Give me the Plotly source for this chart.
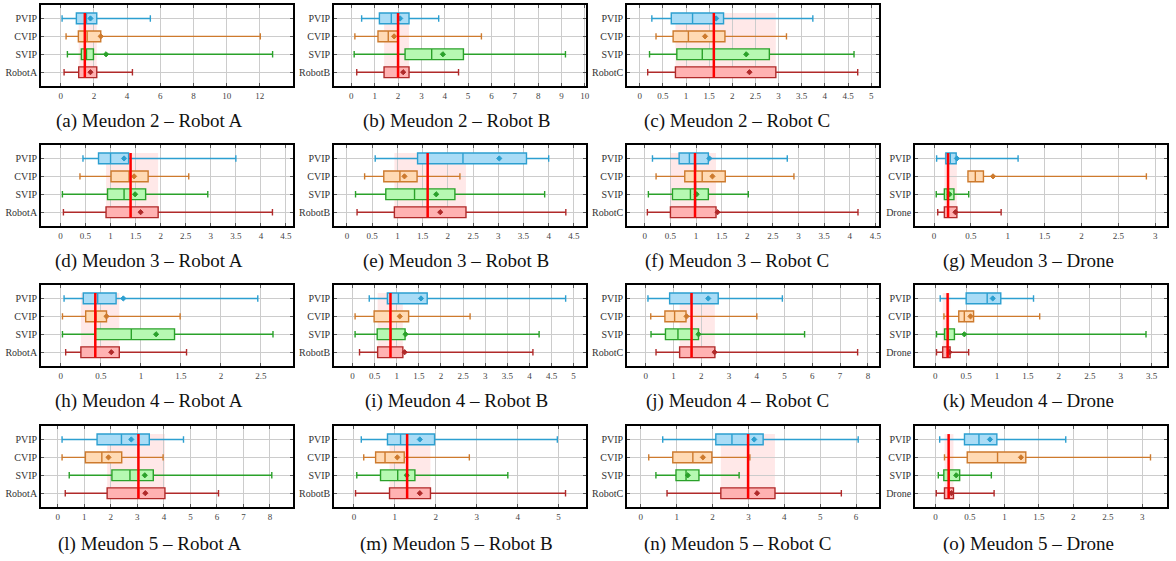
import plotly.graph_objects as go

# ---- data: one row per panel, values ordered [PVIP, CVIP, SVIP, robot/drone] ----
CAPTIONS = [
    "(a) Meudon 2 – Robot A", "(b) Meudon 2 – Robot B", "(c) Meudon 2 – Robot C",
    "(d) Meudon 3 – Robot A", "(e) Meudon 3 – Robot B", "(f) Meudon 3 – Robot C", "(g) Meudon 3 – Drone",
    "(h) Meudon 4 – Robot A", "(i) Meudon 4 – Robot B", "(j) Meudon 4 – Robot C", "(k) Meudon 4 – Drone",
    "(l) Meudon 5 – Robot A", "(m) Meudon 5 – Robot B", "(n) Meudon 5 – Robot C", "(o) Meudon 5 – Drone",
]
AGENTS = ["RobotA", "RobotB", "RobotC",
          "RobotA", "RobotB", "RobotC", "Drone",
          "RobotA", "RobotB", "RobotC", "Drone",
          "RobotA", "RobotB", "RobotC", "Drone"]
METHODS = ["PVIP", "CVIP", "SVIP"]

LOWER = [
    [0.08, 0.32, 0.40, 0.20], [0.44, 0.15, 0.12, 0.23], [0.26, 0.35, 0.21, 0.17],
    [0.45, 0.39, 0.04, 0.06], [0.56, 0.35, 0.17, 0.20], [0.15, 0.22, 0.07, 0.05], [0.035, 0.46, 0.03, 0.05],
    [0.04, 0.02, 0.02, 0.06], [0.38, 0.06, 0.06, 0.16], [0.08, 0.18, 0.19, 0.37], [0.08, 0.14, 0.02, 0.02],
    [0.16, 0.16, 0.43, 0.28], [0.18, 0.24, 0.07, 0.04], [0.61, 0.22, 0.42, 0.73], [0.06, 0.13, 0.04, 0.01],
]
Q1 = [
    [0.94, 1.06, 1.24, 1.08], [1.20, 1.14, 2.30, 1.40], [0.68, 0.72, 0.80, 0.77],
    [0.76, 1.01, 0.94, 0.91], [1.40, 0.73, 0.77, 0.94], [0.67, 0.78, 0.54, 0.50], [0.16, 0.46, 0.14, 0.14],
    [0.28, 0.31, 0.43, 0.25], [0.79, 0.49, 0.56, 0.57], [0.86, 0.69, 0.71, 1.22], [0.50, 0.38, 0.15, 0.12],
    [1.48, 1.04, 2.04, 1.86], [0.82, 0.53, 0.65, 0.87], [2.09, 0.89, 0.98, 2.23], [0.42, 0.46, 0.12, 0.13],
]
MEDIAN = [
    [1.55, 1.59, 1.55, 1.45], [1.71, 1.58, 3.44, 2.00], [1.14, 1.05, 1.35, 1.60],
    [1.00, 1.37, 1.27, 1.40], [2.30, 1.05, 1.34, 1.60], [0.87, 1.12, 0.89, 0.98], [0.22, 0.56, 0.18, 0.19],
    [0.46, 0.44, 0.88, 0.43], [1.04, 0.85, 0.87, 0.86], [1.63, 1.04, 1.16, 1.65], [0.84, 0.47, 0.21, 0.20],
    [2.40, 1.66, 2.72, 3.04], [1.14, 0.76, 1.07, 1.30], [2.54, 1.45, 1.26, 2.99], [0.63, 0.90, 0.20, 0.19],
]
Q3 = [
    [2.17, 2.41, 1.97, 2.17], [2.47, 2.00, 4.80, 2.47], [1.81, 1.84, 2.80, 2.94],
    [1.36, 1.75, 1.70, 1.95], [3.56, 1.39, 2.14, 2.36], [1.24, 1.57, 1.24, 1.39], [0.30, 0.67, 0.27, 0.31],
    [0.69, 0.57, 1.42, 0.73], [1.69, 1.27, 1.19, 1.14], [2.61, 1.45, 1.90, 2.49], [1.06, 0.62, 0.31, 0.24],
    [3.45, 2.41, 3.60, 4.04], [1.97, 1.23, 1.49, 1.87], [3.41, 1.98, 1.62, 3.74], [0.89, 1.31, 0.35, 0.26],
]
UPPER = [
    [5.40, 12.03, 12.77, 4.32], [3.74, 5.57, 9.17, 4.59], [3.74, 3.17, 4.63, 4.71],
    [3.50, 2.56, 2.94, 4.23], [4.00, 2.24, 3.92, 4.34], [2.78, 2.91, 2.02, 4.16], [1.14, 2.88, 0.47, 0.91],
    [2.46, 1.49, 2.65, 1.57], [4.82, 2.66, 4.22, 4.08], [4.92, 4.00, 5.72, 7.63], [1.59, 1.69, 3.41, 0.54],
    [4.74, 3.97, 8.07, 6.06], [4.97, 2.82, 3.76, 5.17], [6.06, 3.04, 2.74, 5.59], [1.89, 3.12, 0.81, 0.85],
]
MEAN = [
    [1.79, 2.41, 2.73, 1.79], [2.09, 1.83, 3.92, 2.22], [1.65, 1.41, 2.30, 2.37],
    [1.27, 1.47, 1.49, 1.60], [3.02, 1.14, 1.77, 1.85], [1.26, 1.32, 1.01, 1.42], [0.31, 0.80, 0.21, 0.29],
    [0.78, 0.57, 1.19, 0.63], [1.55, 1.07, 1.20, 1.18], [2.25, 1.47, 1.90, 2.48], [0.93, 0.57, 0.47, 0.23],
    [2.77, 1.91, 3.28, 3.30], [1.61, 1.06, 1.29, 1.61], [3.16, 1.73, 1.31, 3.24], [0.79, 1.24, 0.30, 0.23],
]
X_RANGES = [
    [-1.2, 14.0], [-0.75, 10.05], [-0.28, 5.17],
    [-0.39, 4.64], [-0.26, 4.74], [-0.35, 4.57], [-0.26, 3.16],
    [-0.25, 2.9], [-0.42, 5.28], [-0.68, 8.4], [-0.33, 3.75],
    [-0.64, 8.87], [-0.49, 5.67], [-0.39, 6.64], [-0.30, 3.36],
]
X_TICK_STEP = [2, 1, 0.5, 0.5, 0.5, 0.5, 0.5, 0.5, 0.5, 1, 0.5, 1, 1, 1, 0.5]
X_TICK_MAX = [12, 10, 5, 4.5, 4.5, 4.5, 3, 2.5, 5, 8, 3.5, 8, 5, 6, 3]

# grid slot (column, row) of each panel
SLOTS = [(0, 0), (1, 0), (2, 0),
         (0, 1), (1, 1), (2, 1), (3, 1),
         (0, 2), (1, 2), (2, 2), (3, 2),
         (0, 3), (1, 3), (2, 3), (3, 3)]

# ---- styling ----
FILLS = ["#a9dcf6", "#ffdab4", "#b6f9b2", "#ffb2b2"]
LINES = ["#2c9fd0", "#cd7a2d", "#2aa12a", "#b02a2a"]
W, H = 1176, 561
COL_LEFT = [41, 335, 629, 918]
COL_WIDTH = 253
ROW_TOP = [5, 145, 285, 426]
ROW_HEIGHT = 81
CAPTION_X = [150, 458, 740, 1032]
CAPTION_Y = [121, 261, 401, 544]
BOX_W = 0.6
SERIF = "Liberation Serif"

fig = go.Figure()
shapes, annotations = [], []

for p, (col, row) in enumerate(SLOTS):
    k = p + 1
    xa, ya = f"x{k}", f"y{k}"
    names = METHODS + [AGENTS[p]]
    positions = [3, 2, 1, 0]  # PVIP on top, agent at the bottom
    for j in range(4):
        fig.add_trace(go.Box(
            y=[positions[j]], orientation="h",
            q1=[Q1[p][j]], median=[MEDIAN[p][j]], q3=[Q3[p][j]],
            lowerfence=[LOWER[p][j]], upperfence=[UPPER[p][j]],
            fillcolor=FILLS[j], line=dict(color=LINES[j], width=1.4),
            width=BOX_W, whiskerwidth=0.6, boxpoints=False,
            xaxis=xa, yaxis=ya, showlegend=False, hoverinfo="skip",
        ))
        fig.add_trace(go.Scatter(
            x=[MEAN[p][j]], y=[positions[j]], mode="markers",
            marker=dict(symbol="diamond", size=4, color=LINES[j],
                        line=dict(color=LINES[j], width=1)),
            xaxis=xa, yaxis=ya, showlegend=False, hoverinfo="skip",
        ))

    # agent interquartile band and agent median reference line
    shapes.append(dict(type="rect", xref=xa, yref=ya, layer="below",
                       x0=Q1[p][3], x1=Q3[p][3], y0=-BOX_W / 2, y1=3 + BOX_W / 2,
                       fillcolor="rgba(255,0,0,0.09)", line=dict(width=0)))
    shapes.append(dict(type="line", xref=xa, yref=ya, layer="above",
                       x0=MEDIAN[p][3], x1=MEDIAN[p][3], y0=-BOX_W / 2, y1=3 + BOX_W / 2,
                       line=dict(color="#ff0000", width=2.5)))

    left, top = COL_LEFT[col], ROW_TOP[row]
    step = X_TICK_STEP[p]
    n_ticks = int(round(X_TICK_MAX[p] / step)) + 1
    tickvals = [round(i * step, 3) for i in range(n_ticks)]
    ticktext = [f"{v:g}" for v in tickvals]
    axis_common = dict(showline=True, linecolor="black", linewidth=1.5, mirror="ticks",
                       ticks="inside", ticklen=3, tickcolor="#555555",
                       showgrid=True, gridcolor="#cccccc", gridwidth=1.3, zeroline=False,
                       fixedrange=True)
    fig.layout[f"xaxis{k}"] = dict(
        domain=[left / W, (left + COL_WIDTH) / W], anchor=ya, range=X_RANGES[p],
        tickvals=tickvals, ticktext=ticktext,
        tickfont=dict(family=SERIF, size=9, color="#444444"), **axis_common)
    fig.layout[f"yaxis{k}"] = dict(
        domain=[1 - (top + ROW_HEIGHT) / H, 1 - top / H], anchor=xa, range=[-0.77, 3.75],
        tickvals=positions, ticktext=names,
        tickfont=dict(family=SERIF, size=10, color="#333333"), **axis_common)

    annotations.append(dict(text=CAPTIONS[p], xref="paper", yref="paper",
                            x=CAPTION_X[col] / W, y=1 - CAPTION_Y[row] / H,
                            xanchor="center", yanchor="middle", showarrow=False,
                            font=dict(family=SERIF, size=19, color="#111111")))

fig.update_layout(width=W, height=H, margin=dict(l=0, r=0, t=0, b=0),
                  paper_bgcolor="white", plot_bgcolor="white",
                  shapes=shapes, annotations=annotations)
fig.write_html("out.html")
